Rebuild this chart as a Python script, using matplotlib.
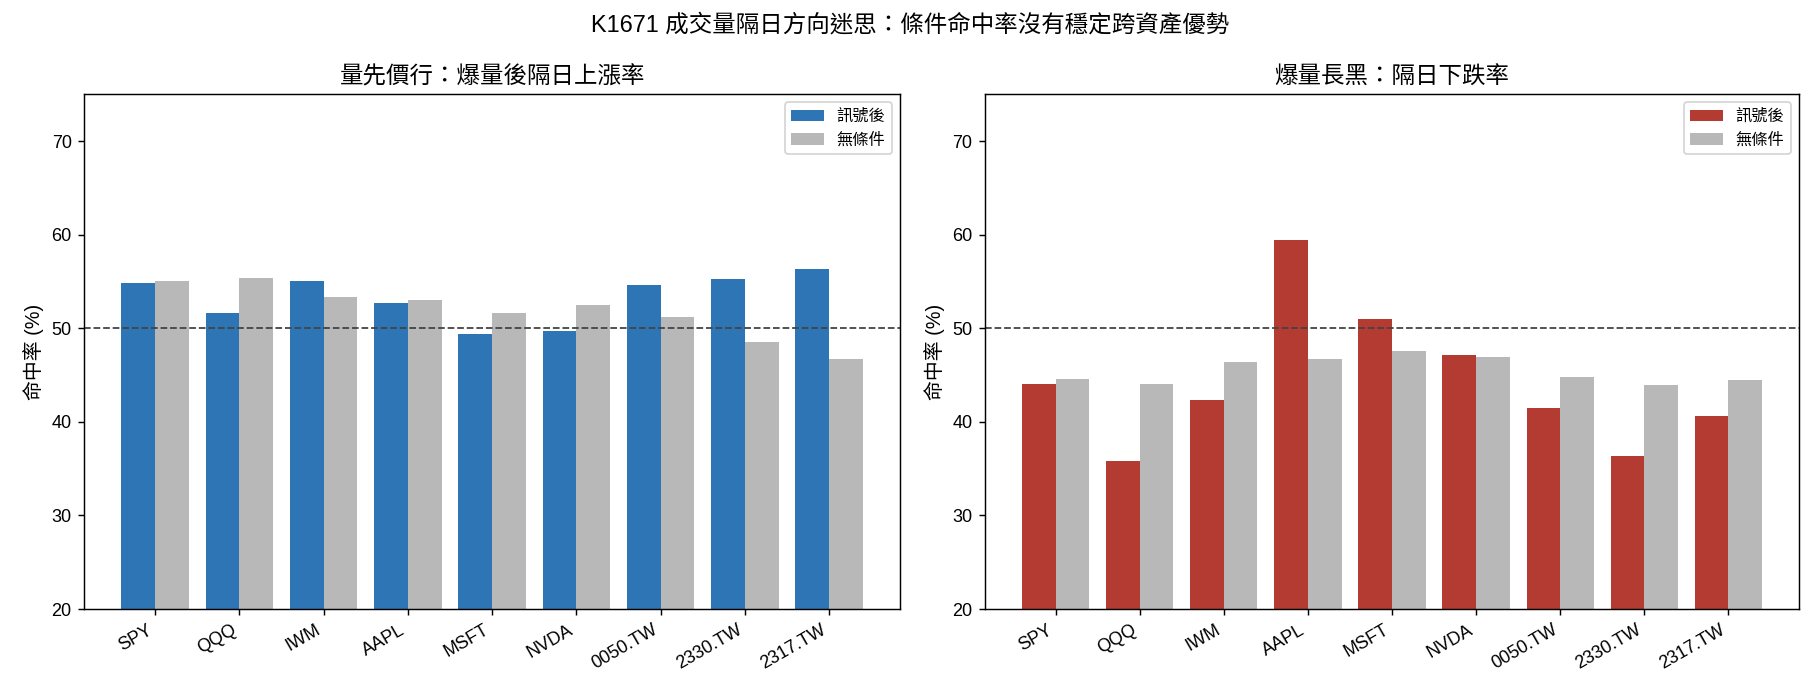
import matplotlib
matplotlib.use("Agg")
import matplotlib.pyplot as plt
import numpy as np

plt.rcParams['font.family'] = ['Liberation Sans', 'Noto Sans CJK TC', 'DejaVu Sans']

tickers = ["SPY", "QQQ", "IWM", "AAPL", "MSFT", "NVDA", "0050.TW", "2330.TW", "2317.TW"]
up_signal = [54.8, 51.66, 55.09, 52.73, 49.41, 49.74, 54.58, 55.31, 56.38]
up_base = [55.09, 55.42, 53.39, 53.06, 51.59, 52.44, 51.25, 48.56, 46.75]
down_signal = [44.06, 35.83, 42.36, 59.41, 51.03, 47.16, 41.51, 36.35, 40.63]
down_base = [44.61, 44.06, 46.42, 46.75, 47.60, 46.97, 44.83, 43.95, 44.50]

suptitle = "K1671 成交量隔日方向迷思：條件命中率沒有穩定跨資產優勢"
titles = ["量先價行：爆量後隔日上漲率", "爆量長黑：隔日下跌率"]
legend_labels = ["訊號後", "無條件"]
ylabel = "命中率 (%)"

blue = "#2E75B6"
red = "#B33B32"
gray = "#B8B8B8"

fig = plt.figure(figsize=(14, 700 / 130), dpi=130)
ax1 = fig.add_axes([0.0463, 0.13, 0.4482, 0.7353])
ax2 = fig.add_axes([0.5412, 0.13, 0.4473, 0.7353])

x = np.arange(len(tickers))
w = 0.4
for ax, sig, base, col, title in [(ax1, up_signal, up_base, blue, titles[0]),
                                  (ax2, down_signal, down_base, red, titles[1])]:
    ax.bar(x - w / 2, sig, w, color=col, label=legend_labels[0])
    ax.bar(x + w / 2, base, w, color=gray, label=legend_labels[1])
    ax.axhline(50, color="#444444", linestyle="--", linewidth=1)
    ax.set_ylim(20, 75)
    ax.set_xticks(x)
    ax.set_xticklabels(tickers, rotation=30, ha="right")
    ax.set_ylabel(ylabel, fontsize=11)
    ax.set_title(title, fontsize=13)
    ax.legend(loc="upper right", fontsize=9)

fig.suptitle(suptitle, fontsize=13, y=0.98)
fig.savefig("out.png", dpi=130)
